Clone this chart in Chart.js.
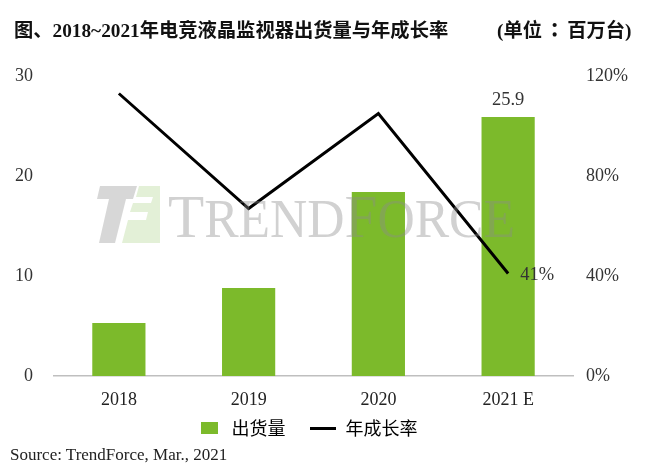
<!DOCTYPE html>
<html>
<head>
<meta charset="utf-8">
<script src="https://cdn.jsdelivr.net/npm/chart.js@4/dist/chart.umd.min.js"></script>
<style>
  html, body { margin: 0; padding: 0; background: #ffffff; }
  #wrap { position: relative; width: 651px; height: 469px; overflow: hidden; background: #fff; }
  #c { position: absolute; left: 0; top: 0; }
  .title { position: absolute; top: 15px; left: 14px; font: bold 19.3px "Liberation Serif", "Noto Sans CJK SC", serif; color: #111; white-space: nowrap; }
  .unit { position: absolute; top: 15px; left: 497px; font: bold 19.3px "Liberation Serif", "Noto Sans CJK SC", serif; color: #111; white-space: nowrap; }
  .unit .colon { font-family: "Noto Sans CJK TC", "Noto Sans CJK SC", sans-serif; font-weight: 900; margin: 0 3px; }
  .source { position: absolute; top: 445px; left: 10px; font: 17px "Liberation Serif", serif; color: #222; white-space: nowrap; }
</style>
</head>
<body>
<div id="wrap">
  <canvas id="c" width="651" height="469"></canvas>
  <div class="title">图、2018~2021年电竞液晶监视器出货量与年成长率</div>
  <div class="unit">(单位<span class="colon">：</span>百万台)</div>
  <div class="source">Source: TrendForce, Mar., 2021</div>
</div>
<script>
// ---- data ----
const categories = ["2018", "2019", "2020", "2021 E"];
const shipments = [5.3, 8.8, 18.4, 25.9];          // 百万台
const growthRate = [1.13, 0.67, 1.05, 0.41];        // 年成长率
const leftTicks = [0, 10, 20, 30];
const rightTicks = [0, 0.4, 0.8, 1.2];
const seriesNames = ["出货量", "年成长率"];

const GREEN = "#7cba2b";
const serif = "'Liberation Serif', 'Times New Roman', serif";

// legend markers (library draws them as point-style images)
function makeMarker(w, h, color) {
  const cv = document.createElement("canvas");
  cv.width = w; cv.height = h;
  const c = cv.getContext("2d");
  c.fillStyle = color;
  c.fillRect(0, 0, w, h);
  return cv;
}
const barMarker = makeMarker(17, 12, GREEN);
const lineMarker = makeMarker(26, 3, "#000000");

// place the legend row where the reference has it
const legendPlace = {
  id: "legendPlace",
  afterLayout(chart) {
    const lg = chart.legend;
    if (!lg || !lg.lineWidths) return;
    const pad = lg.options.labels.padding;
    const h = lg.height;
    lg.top = 394; lg.bottom = 394 + h;
    lg.right = 2 * 196.5 - lg.left - pad + lg.lineWidths[0];
    lg.width = lg.right - lg.left;
  }
};

// watermark + labels plugin
const decor = {
  id: "decor",
  afterDatasetsDraw(chart) {
    const ctx = chart.ctx;
    // --- watermark logo ---
    ctx.save();
    ctx.globalAlpha = 0.4;
    ctx.fillStyle = "#9a9a9a";
    ctx.beginPath();
    ctx.moveTo(100, 186); ctx.lineTo(137, 186); ctx.lineTo(133, 199); ctx.lineTo(126, 199);
    ctx.lineTo(115, 243); ctx.lineTo(99, 243); ctx.lineTo(109, 199); ctx.lineTo(97, 199);
    ctx.closePath(); ctx.fill();
    ctx.fillStyle = "#b9d99a";
    ctx.beginPath();
    ctx.moveTo(139, 186); ctx.lineTo(160, 186); ctx.lineTo(160, 243); ctx.lineTo(122, 243);
    ctx.lineTo(128, 220); ctx.lineTo(146, 220); ctx.lineTo(148, 212); ctx.lineTo(130, 212);
    ctx.lineTo(133, 203); ctx.lineTo(151, 203); ctx.lineTo(153, 197); ctx.lineTo(136, 197);
    ctx.closePath(); ctx.fill();
    // --- watermark text ---
    ctx.fillStyle = "#8c8c8c";
    ctx.textBaseline = "alphabetic";
    const parts = [["T", 62], ["REND", 54], ["F", 62], ["ORCE", 54]];
    let total = 0;
    parts.forEach(p => { ctx.font = p[1] + "px " + serif; total += ctx.measureText(p[0]).width; });
    const x0 = 168, x1 = 515, base = 237;
    const sx = (x1 - x0) / total;
    ctx.translate(x0, base);
    ctx.scale(sx, 1);
    let x = 0;
    parts.forEach(p => { ctx.font = p[1] + "px " + serif; ctx.fillText(p[0], x, 0); x += ctx.measureText(p[0]).width; });
    ctx.restore();

    // --- data labels ---
    ctx.save();
    const barMeta = chart.getDatasetMeta(0);
    const lineMeta = chart.getDatasetMeta(1);
    const lastBar = barMeta.data[barMeta.data.length - 1];
    const lastPt = lineMeta.data[lineMeta.data.length - 1];
    ctx.font = "18.5px " + serif;
    ctx.fillStyle = "#333";
    ctx.textAlign = "center";
    ctx.textBaseline = "middle";
    ctx.fillText(String(shipments[shipments.length - 1]), lastBar.x, lastBar.y - 17);
    ctx.textAlign = "left";
    ctx.fillText(Math.round(growthRate[growthRate.length - 1] * 100) + "%", lastPt.x + 12, lastPt.y + 2);
    ctx.restore();
  }
};

new Chart(document.getElementById("c"), {
  data: {
    labels: categories,
    datasets: [
      {
        type: "bar",
        label: seriesNames[0],
        data: shipments,
        backgroundColor: GREEN,
        borderWidth: 0,
        yAxisID: "y",
        categoryPercentage: 1.0,
        barPercentage: 0.41,
        order: 1
      },
      {
        type: "line",
        label: seriesNames[1],
        data: growthRate,
        borderColor: "#000000",
        backgroundColor: "#000000",
        borderWidth: 3,
        pointRadius: 0,
        tension: 0,
        yAxisID: "y1",
        order: 0
      }
    ]
  },
  options: {
    responsive: false,
    animation: false,
    layout: { padding: { top: 76, bottom: 6, left: 0, right: 0 } },
    plugins: {
      legend: {
        position: "bottom",
        labels: {
          usePointStyle: true,
          pointStyleWidth: 26,
          boxHeight: 12,
          padding: 25,
          color: "#222",
          font: { family: "'Noto Sans CJK SC', sans-serif", size: 18 },
          generateLabels(chart) {
            return chart.data.datasets.map((ds, i) => ({
              text: ds.label,
              datasetIndex: i,
              fillStyle: i === 0 ? GREEN : "#000",
              strokeStyle: i === 0 ? GREEN : "#000",
              lineWidth: 0,
              pointStyle: i === 0 ? barMarker : lineMarker,
              hidden: false
            }));
          }
        }
      },
      tooltip: { enabled: false }
    },
    scales: {
      x: {
        grid: { display: false, drawTicks: false },
        border: { display: true, color: "#bfbfbf", width: 1.5 },
        ticks: { color: "#222", font: { family: serif, size: 18 }, padding: 13 },
        afterFit(s) { s.height = 34; }
      },
      y: {
        position: "left",
        min: 0, max: 30,
        afterBuildTicks(s) { s.ticks = leftTicks.map(v => ({ value: v })); },
        grid: { display: false, drawTicks: false },
        border: { display: false },
        ticks: { color: "#333", font: { family: serif, size: 18 }, padding: 21 },
        afterFit(s) { s.width = 54; }
      },
      y1: {
        position: "right",
        min: 0, max: 1.2,
        afterBuildTicks(s) { s.ticks = rightTicks.map(v => ({ value: v })); },
        grid: { display: false, drawTicks: false },
        border: { display: false },
        ticks: {
          color: "#333",
          font: { family: serif, size: 18 },
          padding: 13,
          callback: v => Math.round(v * 100) + "%"
        },
        afterFit(s) { s.width = 78; }
      }
    }
  },
  plugins: [legendPlace, decor]
});
</script>
</body>
</html>
